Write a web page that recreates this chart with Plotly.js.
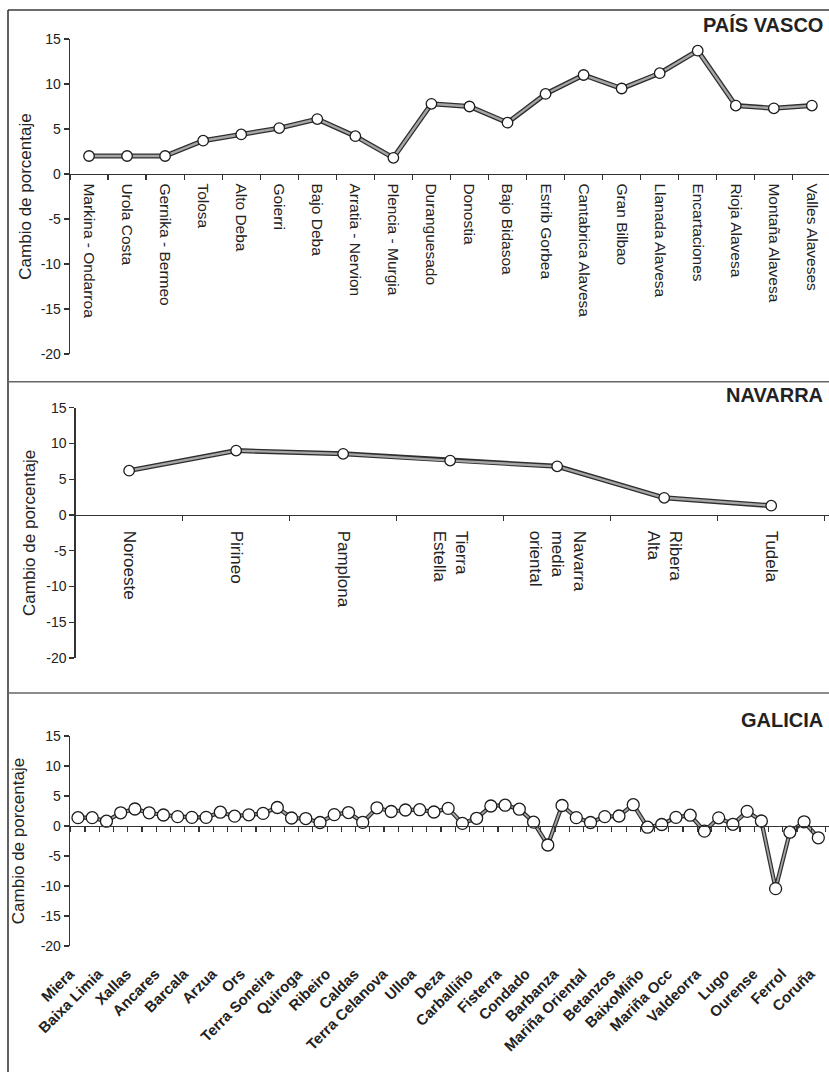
<!DOCTYPE html>
<html>
<head>
<meta charset="utf-8">
<script src="https://cdn.plot.ly/plotly-3.0.1.min.js"></script>
<style>
  html, body { margin: 0; padding: 0; background: #fff; }
  #chart { width: 829px; height: 1072px; }
</style>
</head>
<body>
<div id="chart"></div>
<script>
// País Vasco comarcas
const pvNames = ['Markina - Ondarroa', 'Urola Costa', 'Gernika - Bermeo', 'Tolosa', 'Alto Deba',
  'Goierri', 'Bajo Deba', 'Arratia - Nervion', 'Plencia - Murgia', 'Duranguesado', 'Donostia',
  'Bajo Bidasoa', 'Estrib Gorbea', 'Cantabrica Alavesa', 'Gran Bilbao', 'Llanada Alavesa',
  'Encartaciones', 'Rioja Alavesa', 'Montaña Alavesa', 'Valles Alaveses'];
const pvValues = [2.0, 2.0, 2.0, 3.7, 4.4, 5.1, 6.1, 4.2, 1.8, 7.8, 7.5, 5.7, 8.9, 11.0, 9.5,
  11.2, 13.7, 7.6, 7.3, 7.6];

// Navarra zonas
const navNames = ['Noroeste', 'Pirineo', 'Pamplona', 'Tierra<br>Estella', 'Navarra<br>media<br>oriental',
  'Ribera<br>Alta', 'Tudela'];
const navValues = [6.2, 9.0, 8.55, 7.6, 6.8, 2.4, 1.3];

// Galicia comarcas (one label every second comarca)
const galNames = ['Miera', 'Baixa Limia', 'Xallas', 'Ancares', 'Barcala', 'Arzua', 'Ors',
  'Terra Soneira', 'Quiroga', 'Ribeiro', 'Caldas', 'Terra Celanova', 'Ulloa', 'Deza', 'Carballiño',
  'Fisterra', 'Condado', 'Barbanza', 'Mariña Oriental', 'Betanzos', 'BaixoMiño', 'Mariña Occ',
  'Valdeorra', 'Lugo', 'Ourense', 'Ferrol', 'Coruña'];
const galValues = [1.39, 1.39, 0.8, 2.2, 2.83, 2.2, 1.83, 1.56, 1.44, 1.44, 2.3, 1.64, 1.86, 2.1,
  3.08, 1.33, 1.24, 0.58, 1.9, 2.24, 0.6, 3.03, 2.42, 2.67, 2.72, 2.33, 2.94, 0.44, 1.28, 3.33,
  3.47, 2.8, 0.64, -3.17, 3.42, 1.4, 0.58, 1.56, 1.67, 3.55, -0.2, 0.25, 1.44, 1.8, -0.86, 1.36,
  0.28, 2.44, 0.83, -10.44, -1.03, 0.7, -1.97];

// Shared y scale
const yTickVals = [-20, -15, -10, -5, 0, 5, 10, 15];
const yTickText = ['-20', '-15', '-10', '-5', '0', '5', '10', '15'];
const yTitle = 'Cambio de porcentaje';
const panelTitles = ['PAÍS VASCO', 'NAVARRA', 'GALICIA'];

const W = 829, H = 1072;
const fx = px => px / W;
const fy = px => 1 - px / H;
const FONT = 'Liberation Sans, Arial, Helvetica, sans-serif';
const INK = '#222';
const AXIS = '#333';
const Y_RANGE = [-20, 15];

// paper position of the zero line inside a y domain
function zeroPos(dom) {
  return dom[0] + (0 - Y_RANGE[0]) / (Y_RANGE[1] - Y_RANGE[0]) * (dom[1] - dom[0]);
}

function seriesTraces(x, y, xa, ya, mSize, wOuter, wInner) {
  return [
    { x, y, xaxis: xa, yaxis: ya, type: 'scatter', mode: 'lines', hoverinfo: 'skip',
      line: { color: '#2e2e2e', width: wOuter }, showlegend: false },
    { x, y, xaxis: xa, yaxis: ya, type: 'scatter', mode: 'lines+markers', showlegend: false,
      line: { color: '#a6a6a6', width: wInner },
      marker: { size: mSize, color: '#fff', line: { color: '#1c1c1c', width: 1.3 } } }
  ];
}

const galX = galValues.map((_, i) => i + 1);
const galTickVals = galNames.map((_, i) => 2 * i + 1);

const data = [
  ...seriesTraces(pvNames, pvValues, 'x', 'y', 10.5, 5, 2.4),
  ...seriesTraces(navNames, navValues, 'x2', 'y2', 10.5, 5, 2.4),
  ...seriesTraces(galX, galValues, 'x3', 'y3', 12, 4.2, 1.8)
];

const dPV = [fy(354), fy(39)];
const dNA = [fy(658), fy(407.7)];
const dGA = [fy(946), fy(736)];

function yAxis(domain, anchor, standoff) {
  return {
    domain, anchor, range: Y_RANGE, tickmode: 'array', tickvals: yTickVals, ticktext: yTickText,
    ticks: 'outside', ticklen: 5, tickwidth: 1.2, tickcolor: AXIS,
    showline: true, linecolor: AXIS, linewidth: 1.3, showgrid: false, zeroline: false,
    tickfont: { family: FONT, size: 14, color: INK },
    title: { text: yTitle, standoff, font: { family: FONT, size: 17, color: INK } },
    fixedrange: true
  };
}

function catXAxis(domain, yDom, names, range, fontSize, standoff) {
  return {
    domain, anchor: 'free', position: zeroPos(yDom), type: 'category',
    categoryorder: 'array', categoryarray: names, range, tickson: 'boundaries',
    ticks: 'outside', ticklen: 5, tickwidth: 1.2, tickcolor: AXIS, ticklabelstandoff: standoff,
    showline: true, linecolor: AXIS, linewidth: 1.3, showgrid: false, zeroline: false,
    tickangle: 90, tickfont: { family: FONT, size: fontSize, color: INK }, fixedrange: true
  };
}

const layout = {
  width: W, height: H,
  margin: { l: 0, r: 0, t: 0, b: 0 },
  paper_bgcolor: '#fff', plot_bgcolor: '#fff',
  showlegend: false,
  xaxis: catXAxis([fx(70), 1], dPV, pvNames, [-0.5, 19.45], 15.5, 5),
  yaxis: yAxis(dPV, 'x', 4),
  xaxis2: catXAxis([fx(75.6), 1], dNA, navNames, [-0.5, 6.54], 17, 11),
  yaxis2: yAxis(dNA, 'x2', 6),
  xaxis3: {
    domain: [fx(70), 1], anchor: 'free', position: zeroPos(dGA), type: 'linear',
    range: [0.44, 53.75], tickmode: 'array', tickvals: galTickVals, ticktext: galNames,
    ticks: '', ticklabelstandoff: 132, ticklabelshift: -8, tickangle: -45,
    minor: { tick0: 0.5, dtick: 1, ticks: 'outside', ticklen: 5, tickwidth: 1.2, tickcolor: AXIS, showgrid: false },
    showline: true, linecolor: AXIS, linewidth: 1.3, showgrid: false, zeroline: false,
    tickfont: { family: FONT, size: 15, color: INK, weight: 'bold' }, fixedrange: true
  },
  yaxis3: yAxis(dGA, 'x3', 11),
  annotations: [
    { text: panelTitles[0], y: fy(25) },
    { text: panelTitles[1], y: fy(395) },
    { text: panelTitles[2], y: fy(720) }
  ].map(a => ({
    text: a.text, xref: 'paper', yref: 'paper', x: fx(825), y: a.y,
    xanchor: 'right', yanchor: 'middle', showarrow: false,
    font: { family: FONT, size: 20, color: INK, weight: 'bold' }
  })),
  shapes: [
    // frame: top and left edges, panel separators
    { type: 'line', xref: 'paper', yref: 'paper', x0: fx(8), x1: 1, y0: fy(10), y1: fy(10),
      line: { color: '#3a3a3a', width: 1.6 } },
    { type: 'line', xref: 'paper', yref: 'paper', x0: fx(8), x1: fx(8), y0: 0, y1: fy(10),
      line: { color: '#3a3a3a', width: 1.6 } },
    { type: 'line', xref: 'paper', yref: 'paper', x0: fx(8), x1: 1, y0: fy(381.7), y1: fy(381.7),
      line: { color: '#666', width: 1.5 } },
    { type: 'line', xref: 'paper', yref: 'paper', x0: fx(8), x1: 1, y0: fy(693), y1: fy(693),
      line: { color: '#666', width: 1.5 } }
  ]
};

Plotly.newPlot('chart', data, layout, { displayModeBar: false, staticPlot: true });
</script>
</body>
</html>
